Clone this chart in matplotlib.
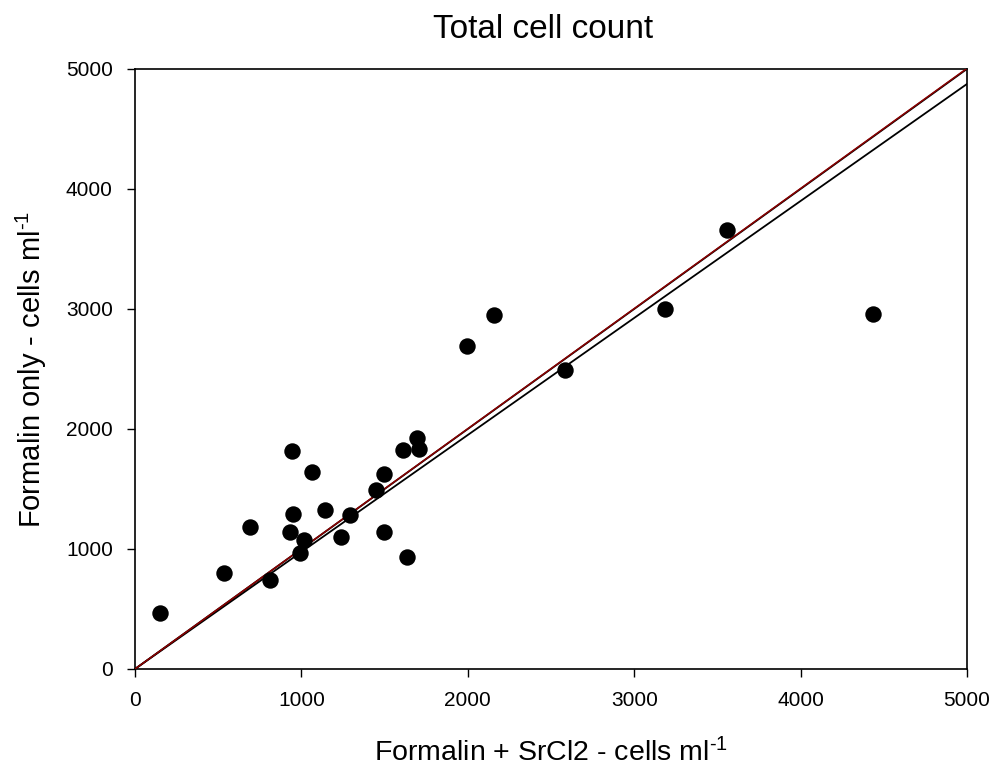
import matplotlib
matplotlib.use('Agg')
import matplotlib.pyplot as plt
import numpy as np

plt.rcParams['font.family'] = ['Liberation Sans', 'DejaVu Sans']
plt.rcParams['mathtext.fontset'] = 'custom'
plt.rcParams['mathtext.rm'] = 'Liberation Sans'
plt.rcParams['mathtext.it'] = 'Liberation Sans'

# SrCl2 (x) vs formalin only (y), cells per ml
srcl2 = [150, 535, 691, 811, 944, 931, 950, 992, 1016, 1064, 1142, 1238, 1292,
         1448, 1496, 1496, 1611, 1635, 1695, 1707, 1995, 2157, 2584, 3185, 3558, 4435]
formalin = [467, 800, 1183, 742, 1817, 1142, 1292, 967, 1075, 1642, 1325, 1100, 1283,
            1492, 1625, 1142, 1825, 933, 1925, 1833, 2692, 2950, 2492, 3000, 3658, 2958]

# lines: 1:1 reference, regression (red), second fit (lower)
line_x = [0, 5000]
one_to_one = [0, 5000]
reg_red = [0, 5005]
reg_low = [0, 4875]

fig = plt.figure(figsize=(10, 7.74), dpi=100)
ax = fig.add_axes([0.135, 0.1357, 0.832, 0.7752])

ax.plot(line_x, one_to_one, color='black', lw=1.3, zorder=2)
ax.plot(line_x, reg_red, color='#8b0000', lw=1.1, zorder=3)
ax.plot(line_x, reg_low, color='black', lw=1.3, zorder=2)
ax.scatter(srcl2, formalin, s=140, color='black', zorder=4, linewidths=0)

ax.set_xlim(0, 5000)
ax.set_ylim(0, 5000)
ax.set_xticks(range(0, 5001, 1000))
ax.set_yticks(range(0, 5001, 1000))
ax.tick_params(direction='out', length=6, width=1, labelsize=15, pad=10)
for s in ax.spines.values():
    s.set_linewidth(1.2)

ax.set_title('Total cell count', fontsize=24, pad=22, x=0.49)
ax.set_xlabel('Formalin + SrCl2 - cells ml$^{\\text{-}1}$', fontsize=20.5, labelpad=20)
ax.set_ylabel('Formalin only - cells ml$^{\\text{-}1}$', fontsize=21, labelpad=12)

fig.savefig('out.png', dpi=100)
